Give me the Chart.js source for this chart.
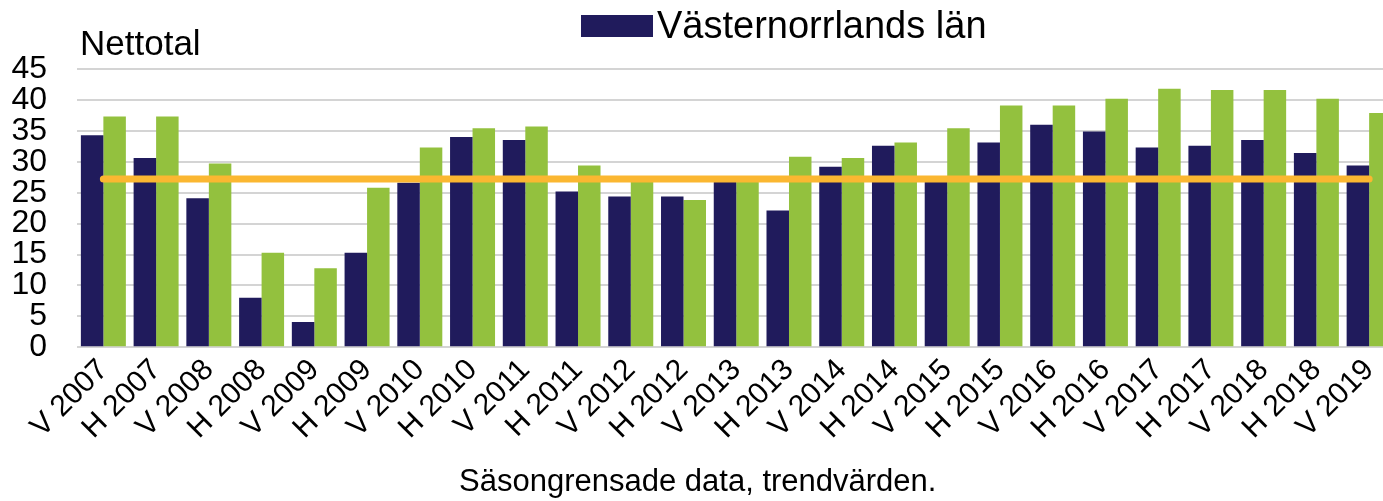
<!DOCTYPE html>
<html><head><meta charset="utf-8">
<script src="https://cdn.jsdelivr.net/npm/chart.js@4.4.1/dist/chart.umd.min.js"></script>
<style>
html,body{margin:0;padding:0;overflow:hidden;background:#fff;width:1383px;height:501px}
#wrap{width:1400px;height:501px;position:relative}
</style></head>
<body><div id="wrap"><canvas id="c" width="1400" height="501"></canvas></div>
<script>
const categories = ['V 2007','H 2007','V 2008','H 2008','V 2009','H 2009','V 2010','H 2010','V 2011','H 2011','V 2012','H 2012','V 2013','H 2013','V 2014','H 2014','V 2015','H 2015','V 2016','H 2016','V 2017','H 2017','V 2018','H 2018','V 2019'];
const lanValues = [34.3,30.6,24.1,8.0,4.1,15.3,26.6,34.0,33.5,25.2,24.4,24.4,26.8,22.1,29.2,32.6,26.8,33.1,36.0,34.9,32.3,32.6,33.5,31.4,29.4];
const riketValues = [37.3,37.3,29.7,15.3,12.8,25.8,32.3,35.4,35.7,29.4,27.0,23.8,27.0,30.8,30.6,33.1,35.4,39.1,39.1,40.2,41.8,41.6,41.6,40.2,37.9];
const averageValues = [27.2,27.2,27.2,27.2,27.2,27.2,27.2,27.2,27.2,27.2,27.2,27.2,27.2,27.2,27.2,27.2,27.2,27.2,27.2,27.2,27.2,27.2,27.2,27.2,27.2];
const yTicks = [0,5,10,15,20,25,30,35,40,45];
const yTitle = 'Nettotal';
const legendLabel = 'Västernorrlands län';
const xTitle = 'Säsongrensade data, trendvärden.';

const NAVY = '#201b5c', GREEN = '#93c13e', ORANGE = '#fbb731';
const FONT = '"Liberation Sans", Arial, sans-serif';

const overlay = {
  id: 'overlay',
  afterDraw(chart) {
    const ctx = chart.ctx;
    ctx.save();
    ctx.fillStyle = '#000';
    ctx.textBaseline = 'alphabetic';
    ctx.textAlign = 'left';
    ctx.font = '35px ' + FONT;
    ctx.fillText(yTitle, 80, 55);
    ctx.fillStyle = NAVY;
    ctx.fillRect(581, 15, 72, 22);
    ctx.fillStyle = '#000';
    ctx.font = '38px ' + FONT;
    ctx.fillText(legendLabel, 657, 38);
    ctx.restore();
  }
};

new Chart(document.getElementById('c'), {
  data: {
    labels: categories,
    datasets: [
      { type: 'line', label: 'Genomsnitt', data: averageValues, borderColor: ORANGE, borderWidth: 7,
        borderCapStyle: 'round', pointRadius: 0, fill: false, order: 0 },
      { type: 'bar', label: legendLabel, data: lanValues, backgroundColor: NAVY, order: 1,
        categoryPercentage: 0.853, barPercentage: 1.0 },
      { type: 'bar', label: 'Riket', data: riketValues, backgroundColor: GREEN, order: 2,
        categoryPercentage: 0.853, barPercentage: 1.0 }
    ]
  },
  options: {
    responsive: false,
    animation: false,
    events: [],
    layout: { padding: { left: 0, right: 4.5, top: 69, bottom: 0 } },
    plugins: {
      legend: { display: false },
      tooltip: { enabled: false },
      title: {
        display: true, position: 'bottom', text: xTitle, color: '#000',
        font: { family: FONT, size: 31, weight: 'normal' },
        padding: { top: 0, bottom: 0 }
      }
    },
    scales: {
      x: {
        grid: { display: false, drawTicks: false },
        border: { display: false },
        ticks: {
          color: '#000', font: { family: FONT, size: 30 },
          minRotation: 45, maxRotation: 45, padding: 5, autoSkip: false
        },
        afterFit(scale) { scale.height = 116.5; scale.paddingLeft = 0; scale.paddingRight = 0; }
      },
      y: {
        min: 0, max: 45,
        afterBuildTicks(scale) { scale.ticks = yTicks.map(v => ({ value: v })); },
        grid: { color: '#d4d4d4', lineWidth: 2, drawTicks: false },
        border: { display: false },
        ticks: { color: '#000', font: { family: FONT, size: 32 }, padding: 30, autoSkip: false, stepSize: 5 },
        afterFit(scale) { scale.width = 77; }
      }
    }
  },
  plugins: [overlay]
});
</script>
</body></html>
